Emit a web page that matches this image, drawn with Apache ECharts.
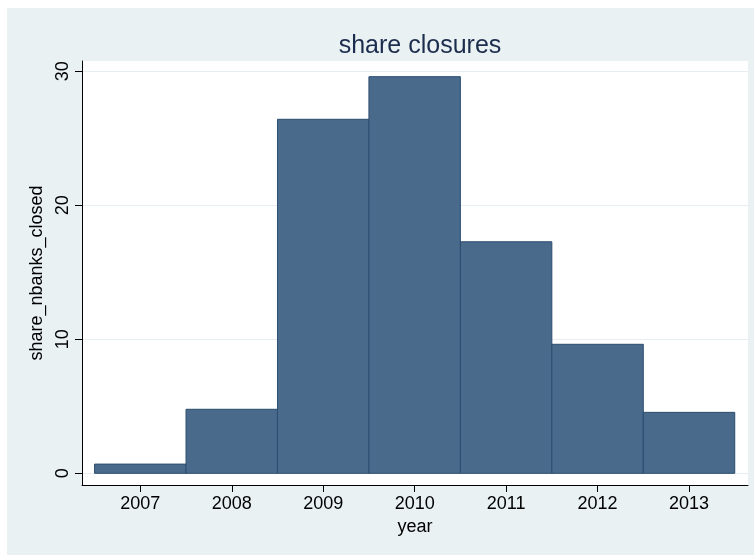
<!DOCTYPE html>
<html>
<head>
<meta charset="utf-8">
<script src="https://cdn.jsdelivr.net/npm/echarts@6/dist/echarts.min.js"></script>
<style>
html,body{margin:0;padding:0;background:#ffffff;}
#wrap{position:absolute;left:7px;top:8px;width:747px;height:547px;background:#e9f1f3;}
#chart{position:absolute;left:0;top:0;width:754px;height:555px;}
</style>
</head>
<body>
<div id="wrap"></div>
<div id="chart"></div>
<script>
const years = [2007, 2008, 2009, 2010, 2011, 2012, 2013];
const shareClosed = [0.69, 4.78, 26.42, 29.6, 17.28, 9.63, 4.55];
const yTicks = [0, 10, 20, 30];
const xTicks = [2007, 2008, 2009, 2010, 2011, 2012, 2013];

const chart = echarts.init(document.getElementById('chart'), null, {renderer: 'canvas'});
const font = '"Liberation Sans", Arial, Helvetica, sans-serif';

chart.setOption({
  backgroundColor: 'transparent',
  animation: false,
  title: {
    text: 'share closures',
    left: 415, top: 29, textAlign: 'center',
    textStyle: {fontFamily: font, fontSize: 25, fontWeight: 'normal', color: '#1c2c4c'}
  },
  grid: {left: 82, right: 6, top: 61, bottom: 70, backgroundColor: '#ffffff', show: true, borderWidth: 0},
  xAxis: {
    type: 'value', min: 2006.3625, max: 2013.645,
    name: 'year', nameLocation: 'middle', nameGap: 32,
    nameTextStyle: {fontFamily: font, fontSize: 18, color: '#000'},
    axisLine: {show: true, onZero: false, lineStyle: {color: '#000', width: 1}},
    axisTick: {show: true, length: 7, lineStyle: {color: '#000'}, customValues: xTicks},
    axisLabel: {fontFamily: font, fontSize: 18, color: '#000', margin: 10, customValues: xTicks,
      formatter: v => String(v)},
    splitLine: {show: false}
  },
  yAxis: {
    type: 'value', min: -0.87, max: 30.77,
    name: 'share_nbanks_closed', nameLocation: 'middle', nameGap: 36, nameRotate: 90,
    nameTextStyle: {fontFamily: font, fontSize: 18, color: '#000'},
    axisLine: {show: true, onZero: false, lineStyle: {color: '#000', width: 1}},
    axisTick: {show: true, length: 7, lineStyle: {color: '#000'}, customValues: yTicks},
    axisLabel: {fontFamily: font, fontSize: 18, color: '#000', margin: 10, rotate: 90, customValues: yTicks,
      formatter: v => String(v)},
    splitLine: {show: true, lineStyle: {color: '#e6eef1', width: 1}}
  },
  series: [{
    type: 'custom',
    data: years.map((y, i) => [y, shareClosed[i]]),
    renderItem: function (params, api) {
      const x = api.value(0), v = api.value(1);
      const p0 = api.coord([x - 0.5, v]);
      const p1 = api.coord([x + 0.5, 0]);
      return {
        type: 'rect',
        shape: {x: p0[0], y: p0[1], width: p1[0] - p0[0], height: p1[1] - p0[1]},
        style: {fill: '#496a8b', stroke: '#2c4d70', lineWidth: 1}
      };
    }
  }]
});
</script>
</body>
</html>
